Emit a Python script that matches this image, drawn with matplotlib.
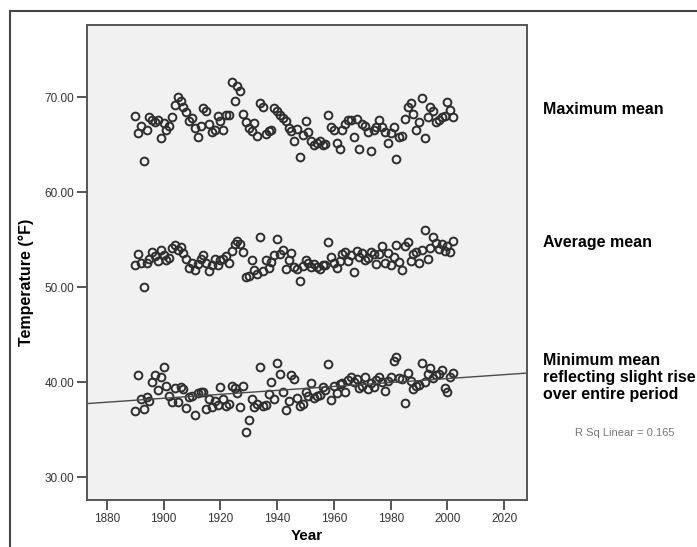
"""Scatter of yearly maximum, average and minimum mean temperature with a linear fit on the minimum"""

import numpy as np
import matplotlib
matplotlib.use("Agg")
import matplotlib.pyplot as plt
from matplotlib.lines import Line2D

plt.rcParams['font.family'] = ['Liberation Sans', 'DejaVu Sans']

# years 1890 - 2002
years = list(range(1890, 2003))

max_mean = [
    68.0, 66.2, 67.0, 63.3, 66.5, 67.9, 67.6, 67.4, 67.6, 65.7,
    67.3, 66.5, 67.0, 67.9, 69.2, 70.0, 69.6, 69.0, 68.4, 67.5,
    67.8, 66.8, 65.8, 67.0, 68.9, 68.6, 67.2, 66.3, 66.5, 68.0,
    67.5, 66.5, 68.1, 68.1, 71.6, 69.6, 71.2, 70.6, 68.2, 67.4,
    66.8, 66.4, 67.3, 65.9, 69.4, 69.0, 66.1, 66.4, 66.6, 68.9,
    68.5, 68.1, 67.8, 67.5, 66.8, 66.4, 65.4, 66.7, 63.7, 66.0,
    67.5, 66.3, 65.4, 65.0, 65.2, 65.4, 65.0, 65.1, 68.1, 66.9,
    66.5, 65.2, 64.6, 66.6, 67.2, 67.6, 67.6, 65.8, 67.7, 64.5,
    67.2, 67.0, 66.3, 64.3, 66.5, 66.9, 67.6, 66.9, 66.3, 65.2,
    66.2, 66.9, 63.5, 65.8, 65.9, 67.7, 69.0, 69.4, 68.2, 66.6,
    67.4, 69.9, 65.7, 67.9, 69.0, 68.5, 67.4, 67.6, 67.9, 68.0,
    69.5, 68.7, 67.9]

avg_mean = [
    52.3, 53.5, 52.5, 50.0, 52.6, 53.0, 53.7, 53.3, 52.8, 53.9,
    53.4, 52.9, 53.1, 54.1, 54.4, 53.9, 54.2, 53.6, 53.0, 52.0,
    52.6, 51.8, 52.4, 53.0, 53.4, 52.5, 51.7, 52.3, 53.0, 52.3,
    52.9, 53.0, 53.3, 52.6, 53.8, 54.5, 54.9, 54.5, 53.7, 51.1,
    51.2, 52.9, 51.8, 51.4, 55.3, 51.7, 52.9, 52.0, 52.7, 53.4,
    55.1, 53.5, 53.9, 51.9, 52.9, 53.6, 52.1, 51.9, 50.7, 52.2,
    52.9, 52.6, 52.1, 52.4, 52.1, 51.9, 52.3, 52.3, 54.8, 53.2,
    52.6, 52.0, 52.8, 53.5, 53.7, 52.8, 53.4, 51.6, 53.8, 53.2,
    53.6, 52.9, 53.1, 53.7, 53.5, 52.4, 53.5, 54.3, 52.6, 53.6,
    52.3, 53.2, 54.4, 52.7, 51.8, 54.3, 54.8, 52.8, 53.5, 53.7,
    52.6, 53.9, 56.0, 53.0, 54.1, 55.3, 54.7, 54.0, 54.5, 53.8,
    54.3, 53.7, 54.9]

min_mean = [
    37.0, 40.8, 38.2, 37.2, 38.4, 38.0, 40.0, 40.8, 39.2, 40.5,
    41.6, 39.6, 38.5, 37.9, 39.4, 37.9, 39.5, 39.3, 37.3, 38.4,
    38.5, 36.5, 38.9, 39.0, 39.0, 37.2, 38.2, 37.4, 38.0, 37.6,
    39.5, 38.2, 37.5, 37.7, 39.6, 39.4, 38.9, 37.4, 39.6, 34.8,
    36.0, 38.2, 37.4, 37.7, 41.6, 37.5, 37.6, 38.8, 40.0, 38.2,
    42.0, 40.9, 39.0, 37.1, 38.0, 40.8, 40.3, 38.3, 37.5, 37.7,
    39.0, 38.6, 39.9, 38.3, 38.6, 38.7, 39.5, 39.2, 41.9, 38.1,
    39.6, 38.9, 39.8, 39.9, 39.0, 40.2, 40.5, 40.0, 40.3, 39.4,
    39.6, 40.5, 39.3, 39.9, 39.5, 40.2, 40.6, 40.0, 39.1, 40.1,
    40.6, 42.2, 42.7, 40.4, 40.3, 37.8, 41.0, 40.1, 39.3, 39.6,
    39.7, 42.0, 40.0, 40.9, 41.5, 40.4, 40.8, 40.9, 41.3, 39.4,
    39.0, 40.6, 41.0]

x_ticks = [1880, 1900, 1920, 1940, 1960, 1980, 2000, 2020]
y_ticks = [30, 40, 50, 60, 70]

fig = plt.figure(figsize=(6.97, 5.47), dpi=100)
ax = fig.add_axes([0.1248, 0.0859, 0.6312, 0.8684])
ax.set_facecolor('#f1f1f1')

for series in (max_mean, avg_mean, min_mean):
    ax.plot(years, series, 'o', markersize=5.6, markerfacecolor='none',
            markeredgecolor='#2e2e2e', markeredgewidth=1.4)

# linear fit of the minimum mean
slope, intercept = np.polyfit(years, min_mean, 1)
xs = np.array([1873, 2028])
ax.plot(xs, slope * xs + intercept, color='#4a4a4a', linewidth=1.0)

ax.set_xlim(1873, 2028)
ax.set_ylim(27.6, 77.6)
ax.set_xticks(x_ticks)
ax.set_yticks(y_ticks)
ax.set_yticklabels(['%.2f' % v for v in y_ticks])
ax.tick_params(direction='out', length=7, width=1.4, color='#555555',
               labelsize=8.5, labelcolor='#333333', pad=2)
for spine in ax.spines.values():
    spine.set_color('#555555')
    spine.set_linewidth(1.4)

ax.set_xlabel('Year', fontsize=11, fontweight='bold')
ax.xaxis.set_label_coords(0.5, -0.062)
ax.set_ylabel('Temperature (°F)', fontsize=11.5, fontweight='bold')
ax.yaxis.set_label_coords(-0.12, 0.459)

# notes on the right
fig.text(543 / 697, 1 - 110 / 547, 'Maximum mean', fontsize=11.5, fontweight='bold', va='center')
fig.text(543 / 697, 1 - 242 / 547, 'Average mean', fontsize=11.5, fontweight='bold', va='center')
fig.text(543 / 697, 1 - 353 / 547, 'Minimum mean\nreflecting slight rise\nover entire period',
         fontsize=11.5, fontweight='bold', va='top', linespacing=1.18)
fig.text(625 / 697, 1 - 433 / 547, 'R Sq Linear = 0.165', fontsize=8, color='#777777',
         ha='center', va='center')

# outer frame
fig.add_artist(Line2D([10 / 697, 1], [1 - 11 / 547] * 2, color='#444444', linewidth=1.5))
fig.add_artist(Line2D([10 / 697] * 2, [0, 1 - 11 / 547], color='#444444', linewidth=1.5))

fig.savefig('out.png', dpi=100)
